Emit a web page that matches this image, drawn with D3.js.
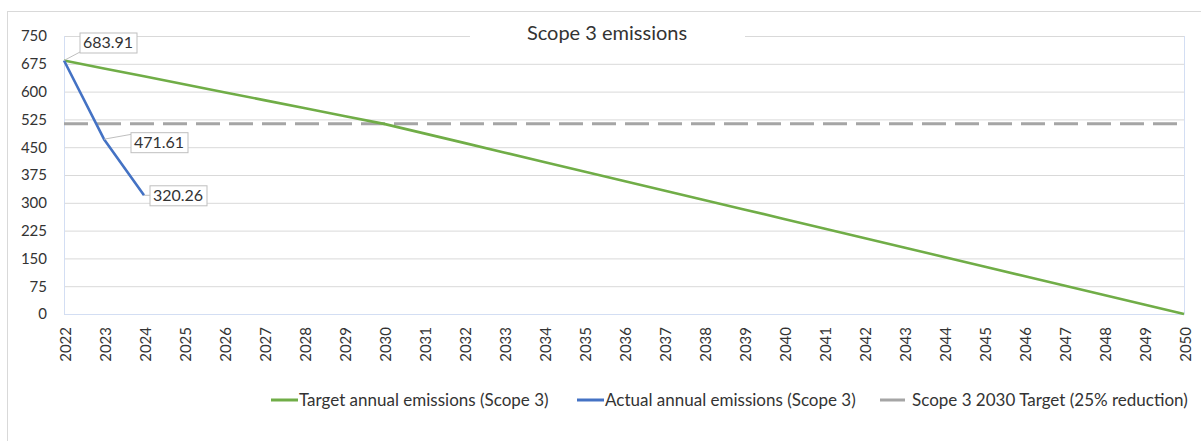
<!DOCTYPE html>
<html>
<head>
<meta charset="utf-8">
<script src="https://cdn.jsdelivr.net/npm/d3@7"></script>
<style>
	body { margin: 0; background: #fff; }
	text { font-family: Lato, "Open Sans", sans-serif; fill: #333; }
</style>
</head>
<body>
<div id="chart"></div>
<script>

// chart data
var years = [2022, 2023, 2024, 2025, 2026, 2027, 2028, 2029, 2030, 2031, 2032, 2033, 2034, 2035, 2036,
	2037, 2038, 2039, 2040, 2041, 2042, 2043, 2044, 2045, 2046, 2047, 2048, 2049, 2050];

var targetEmissions = [683.91, 662.54, 641.17, 619.79, 598.42, 577.05, 555.67, 534.30, 512.93,
	487.28, 461.64, 435.99, 410.35, 384.70, 359.06, 333.41, 307.76, 282.12, 256.47, 230.82,
	205.18, 179.53, 153.89, 128.24, 102.59, 76.95, 51.30, 25.65, 0];

var actualYears = [2022, 2023, 2024];
var actualEmissions = [683.91, 471.61, 320.26];

var target2030 = 512.93;

var yTicks = [0, 75, 150, 225, 300, 375, 450, 525, 600, 675, 750];

var seriesNames = ['Target annual emissions (Scope 3)', 'Actual annual emissions (Scope 3)', 'Scope 3 2030 Target (25% reduction)'];

var chartTitle = 'Scope 3 emissions';


var width = 1201, height = 441;
var plot = {left: 64, right: 1184, top: 36, bottom: 314};

var svg = d3.select('#chart').append('svg')
	.attr('width', width)
	.attr('height', height);

// outer chart border
svg.append('rect')
	.attr('x', 7.5)
	.attr('y', 11.5)
	.attr('width', 1210)
	.attr('height', 450)
	.attr('fill', '#fff')
	.attr('stroke', '#d9d9d9');

var x = d3.scalePoint().domain(years).range([plot.left, plot.right]);
var y = d3.scaleLinear().domain([0, 750]).range([plot.bottom, plot.top]);

// gridlines
svg.append('g')
	.attr('class', 'grid')
	.attr('transform', 'translate(' + plot.left + ',0)')
	.call(d3.axisLeft(y).tickValues(yTicks).tickSize(-(plot.right - plot.left)).tickFormat(''))
	.call(function(g) { g.select('.domain').remove(); })
	.selectAll('line')
	.attr('stroke', '#d9d9d9');

// y tick labels
svg.append('g')
	.attr('transform', 'translate(' + (plot.left - 17) + ',0)')
	.call(d3.axisLeft(y).tickValues(yTicks).tickSize(0).tickPadding(0))
	.call(function(g) { g.select('.domain').remove(); })
	.selectAll('text')
	.style('font-family', 'Lato, sans-serif')
	.style('font-size', '15px')
	.attr('fill', '#333');

// plot area edges
svg.append('path')
	.attr('d', 'M' + (plot.left + 0.5) + ',' + plot.top + 'V' + (plot.bottom + 0.5) + 'H' + (plot.right + 0.5) + 'V' + plot.top)
	.attr('fill', 'none')
	.attr('stroke', '#d3def3');

// x axis
var xAxis = svg.append('g')
	.attr('transform', 'translate(0,' + plot.bottom + ')')
	.call(d3.axisBottom(x).tickSize(0));
xAxis.select('.domain').remove();
xAxis.selectAll('text')
	.attr('transform', 'rotate(-90)')
	.attr('x', -13)
	.attr('y', 1)
	.attr('dy', '0.35em')
	.style('text-anchor', 'end')
	.style('font-family', 'Lato, sans-serif')
	.style('font-size', '15px')
	.attr('fill', '#333');

// title (white box covers gridline)
svg.append('rect')
	.attr('x', 470)
	.attr('y', 20)
	.attr('width', 275)
	.attr('height', 28)
	.attr('fill', '#fff');

svg.append('text')
	.attr('x', 607)
	.attr('y', 40)
	.attr('text-anchor', 'middle')
	.style('font-size', '20px')
	.text(chartTitle);

// 2030 target dashed line
svg.append('line')
	.attr('x1', x(years[0]))
	.attr('x2', x(years[years.length - 1]))
	.attr('y1', y(target2030))
	.attr('y2', y(target2030))
	.attr('stroke', '#a5a5a5')
	.attr('stroke-width', 3)
	.attr('stroke-dasharray', '24 9');

var line = d3.line()
	.x(function(d) { return x(d[0]); })
	.y(function(d) { return y(d[1]); });

svg.append('path')
	.datum(d3.zip(years, targetEmissions))
	.attr('d', line)
	.attr('fill', 'none')
	.attr('stroke', '#70ad47')
	.attr('stroke-width', 2.6)
	.attr('stroke-linejoin', 'round');

svg.append('path')
	.datum(d3.zip(actualYears, actualEmissions))
	.attr('d', line)
	.attr('fill', 'none')
	.attr('stroke', '#4472c4')
	.attr('stroke-width', 2.6)
	.attr('stroke-linejoin', 'round');

// data labels for actual series
var labelOffsets = [[44, -18], [55, 3], [34, 0]];
var labels = svg.append('g').selectAll('g')
	.data(d3.zip(actualYears, actualEmissions))
	.enter().append('g');

labels.append('line')
	.attr('x1', function(d) { return x(d[0]); })
	.attr('y1', function(d) { return y(d[1]); })
	.attr('x2', function(d, i) { return x(d[0]) + labelOffsets[i][0] - 27; })
	.attr('y2', function(d, i) { return y(d[1]) + labelOffsets[i][1] + (i == 0 ? 9 : (i == 1 ? -8 : 0)); })
	.attr('stroke', '#bfbfbf')
	.attr('stroke-width', 1);

labels.append('rect')
	.attr('x', function(d, i) { return x(d[0]) + labelOffsets[i][0] - 28.5 + 0.5; })
	.attr('y', function(d, i) { return y(d[1]) + labelOffsets[i][1] - 10 + 0.5; })
	.attr('width', 57)
	.attr('height', 20)
	.attr('fill', '#fff')
	.attr('stroke', '#bfbfbf');

labels.append('text')
	.attr('x', function(d, i) { return x(d[0]) + labelOffsets[i][0]; })
	.attr('y', function(d, i) { return y(d[1]) + labelOffsets[i][1]; })
	.attr('dy', '0.35em')
	.attr('text-anchor', 'middle')
	.style('font-size', '16px')
	.text(function(d) { return d3.format('.2f')(d[1]); });

// legend
var legendItems = [
	{name: seriesNames[0], color: '#70ad47', x: 271},
	{name: seriesNames[1], color: '#4472c4', x: 577},
	{name: seriesNames[2], color: '#a5a5a5', x: 880}
];

var legend = svg.append('g').selectAll('g')
	.data(legendItems)
	.enter().append('g')
	.attr('transform', function(d) { return 'translate(' + d.x + ',400)'; });

legend.append('line')
	.attr('x1', 0)
	.attr('x2', function(d, i) { return i == 2 ? 25 : 27; })
	.attr('stroke', function(d) { return d.color; })
	.attr('stroke-width', 3);

legend.append('text')
	.attr('x', function(d, i) { return i == 2 ? 32 : 28; })
	.attr('dy', '0.35em')
	.style('font-size', '17px')
	.text(function(d) { return d.name; });

</script>
</body>
</html>
